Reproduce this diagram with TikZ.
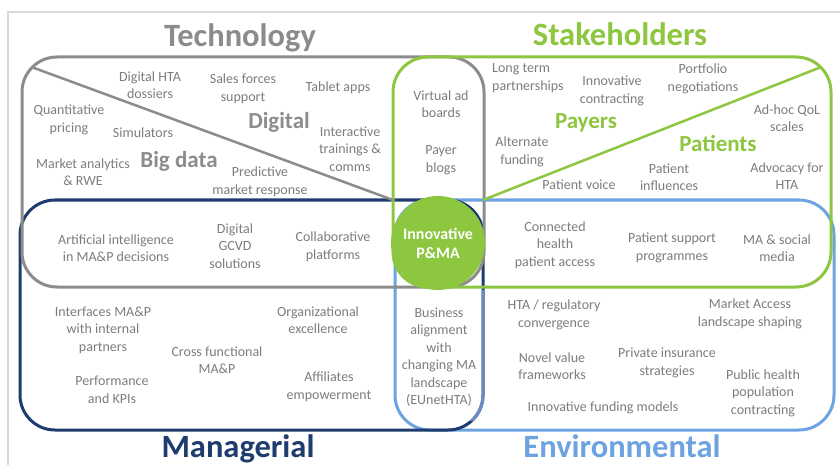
\documentclass[tikz,border=0pt]{standalone}
\usepackage{fontspec}
\setmainfont{Carlito}
\definecolor{techgray}{RGB}{140,140,140}
\definecolor{txtgray}{RGB}{125,125,125}
\definecolor{stkgreen}{RGB}{141,198,63}
\definecolor{mgnavy}{RGB}{30,60,110}
\definecolor{envblue}{RGB}{108,163,224}
\definecolor{midblue}{RGB}{105,140,195}
\definecolor{framegray}{RGB}{217,217,217}

\begin{document}
\begin{tikzpicture}[x=1pt,y=-1pt,
  lbl/.style={text=txtgray, align=center, inner sep=0pt, font=\fontsize{14}{17.5}\selectfont},
  lblL/.style={lbl, align=left},
  sub/.style={inner sep=0pt, font=\fontsize{23}{26}\selectfont\bfseries},
  title/.style={inner sep=0pt, anchor=base, font=\fontsize{32.5}{36}\selectfont\bfseries},
  box/.style={line width=3pt, rounded corners=35pt},
  diag/.style={line width=2.5pt}]
\useasboundingbox (0,0) rectangle (840,465);
\fill[white] (0,0) rectangle (840,465);

% outer frame
\draw[framegray, line width=2pt] (8,465) -- (8,12) -- (840,12);

% the four overlapping domains
\draw[box, envblue] (395,200) rectangle (834,430);
\draw[box, mgnavy] (20,200) rectangle (483,430);
\begin{scope}
  \clip (470,290) rectangle (500,420);
  \draw[box, midblue] (20,200) rectangle (483,430);
\end{scope}
\draw[box, techgray] (22,57) rectangle (484,287);
\draw[box, stkgreen] (393,57) rectangle (831,287);

% dividing diagonals
\coordinate (tA) at (32.3,67.3);
\coordinate (tB) at (393,200);
\draw[diag, techgray] (tA) -- (tB);
\coordinate (sA) at (483,200);
\coordinate (sB) at (820,67.5);
\draw[diag, stkgreen] (sA) -- (sB);

% centre
\node[circle, fill=stkgreen, minimum size=94pt, inner sep=0pt, text=white,
      align=center, font=\fontsize{16}{19}\selectfont\bfseries] (core) at (438,243) {Innovative\\P\&MA};

% titles
\node[title, text=techgray] (ttech) at (240,47) {Technology};
\node[title, text=stkgreen] (tstk) at (620,46) {Stakeholders};
\node[title, text=mgnavy] (tmgr) at (238,457) {Managerial};
\node[title, text=envblue] (tenv) at (622,457) {Environmental};

% technology
\node[lbl] (dhta) at (150,85) {Digital HTA\\dossiers};
\node[lbl] (sales) at (243,89) {Sales forces\\support};
\node[lbl] (tablet) at (338,88) {Tablet apps};
\node[lbl] (quant) at (69,120) {Quantitative\\pricing};
\node[lbl] (sim) at (143,133) {Simulators};
\node[sub, text=techgray] (digital) at (279,122) {Digital};
\node[lbl] (inter) at (350,149) {Interactive\\trainings \&\\comms};
\node[lbl] (mkt) at (83,172) {Market analytics\\\& RWE};
\node[sub, text=techgray] (bigdata) at (179,161) {Big data};
\node[lbl] (pred) at (260,182) {Predictive\\market response};

% technology / stakeholders overlap
\node[lbl] (vad) at (441,104) {Virtual ad\\boards};
\node[lbl] (pblog) at (441,160) {Payer\\blogs};

% stakeholders
\node[lblL, anchor=west] (ltp) at (492,78) {Long term\\partnerships};
\node[lbl] (icon) at (612,91) {Innovative\\contracting};
\node[lbl] (port) at (703,79) {Portfolio\\negotiations};
\node[lbl] (qol) at (787,118) {Ad-hoc QoL\\scales};
\node[sub, text=stkgreen] (payers) at (586,123) {Payers};
\node[sub, text=stkgreen] (patients) at (718,143) {Patients};
\node[lbl] (alt) at (522,152) {Alternate\\funding};
\node[lbl] (pvoice) at (579,185) {Patient voice};
\node[lbl] (pinfl) at (669,177) {Patient\\influences};
\node[lbl] (advo) at (787,176) {Advocacy for\\HTA};

% technology / managerial and stakeholders / environmental overlaps
\node[lbl] (ai) at (116,248) {Artificial intelligence\\in MA\&P decisions};
\node[lbl] (gcvd) at (235,246) {Digital\\GCVD\\solutions};
\node[lbl] (collab) at (333,247) {Collaborative\\platforms};
\node[lbl] (conn) at (555,245) {Connected\\health\\patient access};
\node[lbl] (psp) at (672,248) {Patient support\\programmes};
\node[lbl] (social) at (777,248) {MA \& social\\media};

% managerial
\node[lbl] (ifc) at (103,330) {Interfaces MA\&P\\with internal\\partners};
\node[lbl] (cross) at (217,360) {Cross functional\\MA\&P};
\node[lbl] (org) at (318,320) {Organizational\\excellence};
\node[lbl] (perf) at (112,390) {Performance\\and KPIs};
\node[lbl] (aff) at (329,387) {Affiliates\\empowerment};

% managerial / environmental overlap
\node[lbl] (biz) at (439,357) {Business\\alignment\\with\\changing MA\\landscape\\(EUnetHTA)};

% environmental
\node[lbl] (hta) at (554,315) {HTA / regulatory\\convergence};
\node[lbl] (mas) at (750,314) {Market Access\\landscape shaping};
\node[lbl] (nvf) at (552,366) {Novel value\\frameworks};
\node[lbl] (pis) at (667,363) {Private insurance\\strategies};
\node[lbl] (pub) at (763,393) {Public health\\population\\contracting};
\node[lbl] (ifm) at (603,408) {Innovative funding models};
\end{tikzpicture}
\end{document}
